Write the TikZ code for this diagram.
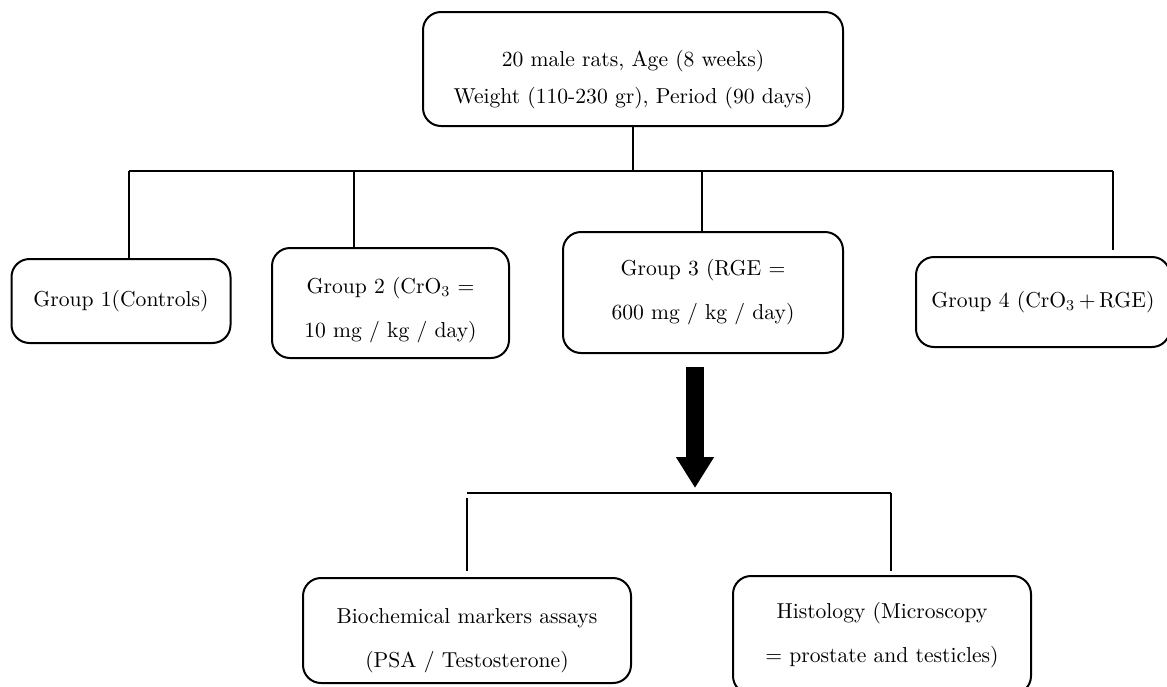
\documentclass[tikz,border=0pt]{standalone}
\usepackage{amsmath}
\usepackage{tikz}
\usetikzlibrary{arrows.meta}

\begin{document}
\begin{tikzpicture}[x=0.5pt,y=-0.5pt,line width=0.7pt,
  main node/.style={rectangle,rounded corners=9pt,draw,line width=1pt,align=center,inner sep=0pt,
    font=\fontsize{10.8}{22}\selectfont},
  fat arrow/.style={line width=9pt,-{Triangle[length=15.5pt,width=18pt]}}]

  \useasboundingbox (0,0) rectangle (1167,686);

  \node[main node,minimum width=210pt,minimum height=57pt,text height=37.6pt,font=\fontsize{10.8}{18.5}\selectfont] (1) at (633,69)
    {20 male rats, Age (8 weeks)\\Weight (110-230 gr), Period (90 days)};

  \node[main node,minimum width=109.5pt,minimum height=42pt] (2) at (121,301) {Group 1(Controls)};
  \node[main node,minimum width=118.5pt,minimum height=55pt,text height=37pt] (3) at (390.5,303) {Group 2 (CrO\textsubscript{3} =\\10 mg / kg / day)};
  \node[main node,minimum width=140pt,minimum height=60.5pt] (4) at (703,292.5) {Group 3 (RGE =\\600 mg / kg / day)};
  \node[main node,minimum width=127pt,minimum height=45pt] (5) at (1043,302) {Group 4 (CrO\textsubscript{3}\,+\,RGE)};

  \node[main node,minimum width=164pt,minimum height=52.5pt,text height=39.5pt] (6) at (467,630.5) {Biochemical markers assays\\(PSA / Testosterone)};
  \node[main node,minimum width=149pt,minimum height=59pt] (7) at (882,635) {Histology (Microscopy\\= prostate and testicles)};

  % upper bar
  \coordinate (b2) at (129,171);
  \coordinate (b3) at (354,171);
  \coordinate (b4) at (702,171);
  \coordinate (b5) at (1113,171);
  \draw (1.south) -- (1.south |- b2);
  \draw (b2) -- (b5);
  \foreach \n in {2,3,4}
    \draw (b\n) -- (\n.north -| b\n);
  \draw[shorten >=3pt] (b5) -- (5.north -| b5);

  % big arrow and lower bar
  \coordinate (a1) at (695,367);
  \coordinate (a2) at (695,488);
  \draw[fat arrow] (a1) -- (a2);
  \coordinate (c6) at (467,493);
  \coordinate (c7) at (891,493);
  \draw (c6) -- (c7);
  \draw[shorten <=2.5pt,shorten >=3pt] (c6) -- (6.north -| c6);
  \draw[shorten >=2pt] (c7) -- (7.north -| c7);

\end{tikzpicture}
\end{document}
